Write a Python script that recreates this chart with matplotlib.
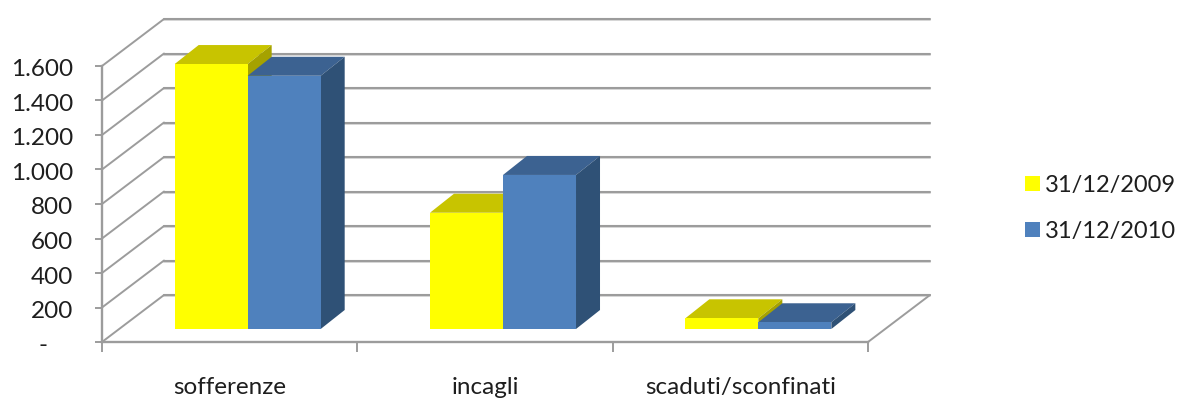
import numpy as np
import matplotlib
matplotlib.use("Agg")
import matplotlib.pyplot as plt
from matplotlib.patches import Patch, Polygon
from matplotlib.transforms import ScaledTranslation

categories = ["sofferenze", "incagli", "scaduti/sconfinati"]
dates = ["31/12/2009", "31/12/2010"]
values_2009 = [1536, 674, 62]
values_2010 = [1468, 893, 39]
y_ticks = [0, 200, 400, 600, 800, 1000, 1200, 1400, 1600]
y_labels = ["-    ", "200", "400", "600", "800", "1.000", "1.200", "1.400", "1.600"]

GRID = "#9c9c9c"
TEXT = "#1e1e1e"
YELLOW = ("#ffff00", "#c8c400", "#a5a200")
BLUE = ("#4f81bd", "#3c6291", "#2f5176")

# fake 3d: depth is a shift in data units
WALL_DX = 62 / 255.3
WALL_DY = 47 / 34.5 * 200
BAR_DX = 24 / 255.3
BAR_DY = 19 / 34.5 * 200
FLOOR_DX = 18 / 255.3
FLOOR_DY = 13 / 34.5 * 200
BAR_W = 73 / 255.3

plt.rcParams["font.family"] = ["Lato", "DejaVu Sans"]

fig = plt.figure(figsize=(11.8, 3.98), dpi=100)
ax = fig.add_axes([102 / 1180, 1 - 342 / 398, 766 / 1180, 276 / 398])
ax.set_xlim(0, 3)
ax.set_ylim(0, 1600)
ax.patch.set_visible(False)


def line(xs, ys, color=GRID, lw=1.5, z=1):
    ax.plot(xs, ys, color=color, lw=lw, clip_on=False, zorder=z, solid_capstyle="round")


# back wall, side wall and floor
for v in y_ticks:
    line([WALL_DX, 3 + WALL_DX], [v + WALL_DY - 8, v + WALL_DY - 8], color="#d8d8d8", lw=1.4, z=0.5)
    line([WALL_DX, 3 + WALL_DX], [v + WALL_DY, v + WALL_DY])
    line([0, WALL_DX], [v, v + WALL_DY], lw=1.4)
line([3, 3 + WALL_DX], [0, WALL_DY], lw=1.4)


def bar_3d(x, value, colors, z):
    base = FLOOR_DY
    x0 = x + FLOOR_DX
    x1 = x0 + BAR_W
    top = base + value
    ax.bar(x0, value, BAR_W, bottom=base, align="edge", color=colors[0], clip_on=False, zorder=z + 0.2)
    ax.add_patch(Polygon([(x0, top), (x1, top), (x1 + BAR_DX, top + BAR_DY), (x0 + BAR_DX, top + BAR_DY)],
                         fc=colors[1], ec="none", clip_on=False, zorder=z))
    ax.add_patch(Polygon([(x1, base), (x1, top), (x1 + BAR_DX, top + BAR_DY), (x1 + BAR_DX, base + BAR_DY)],
                         fc=colors[2], ec="none", clip_on=False, zorder=z))


pos = np.arange(len(categories))
for i in pos:
    bar_3d(i + 0.5 - BAR_W, values_2009[i], YELLOW, 3 + i)
    bar_3d(i + 0.5, values_2010[i], BLUE, 3.5 + i)

for side in ["top", "right"]:
    ax.spines[side].set_visible(False)
for side in ["left", "bottom"]:
    ax.spines[side].set_color(GRID)
    ax.spines[side].set_linewidth(1.7)

ax.set_yticks(y_ticks, y_labels, fontsize=17.5, color=TEXT)
ax.tick_params(axis="y", length=5, width=1.4, color=GRID, pad=16)
ax.set_xticks(np.arange(4), [])
ax.tick_params(axis="x", length=7, width=1.4, color=GRID)
ax.set_xticks(pos + 0.5, categories, minor=True, fontsize=17.5, color=TEXT)
ax.tick_params(axis="x", which="minor", length=0, pad=25.5)

# value labels sit a little below their ticks
down = ScaledTranslation(0, -2 / 100, fig.dpi_scale_trans)
for label in ax.get_yticklabels():
    label.set_transform(label.get_transform() + down)

handles = [Patch(fc=YELLOW[0]), Patch(fc=BLUE[0])]
fig.legend(handles, dates, loc="center left", bbox_to_anchor=(1025 / 1180, 1 - 208.5 / 398),
           frameon=False, fontsize=17, handlelength=0.62, handleheight=0.62, handletextpad=0.22,
           labelspacing=1.05, labelcolor=TEXT, borderpad=0, borderaxespad=0)

fig.savefig("out.png", dpi=100)
